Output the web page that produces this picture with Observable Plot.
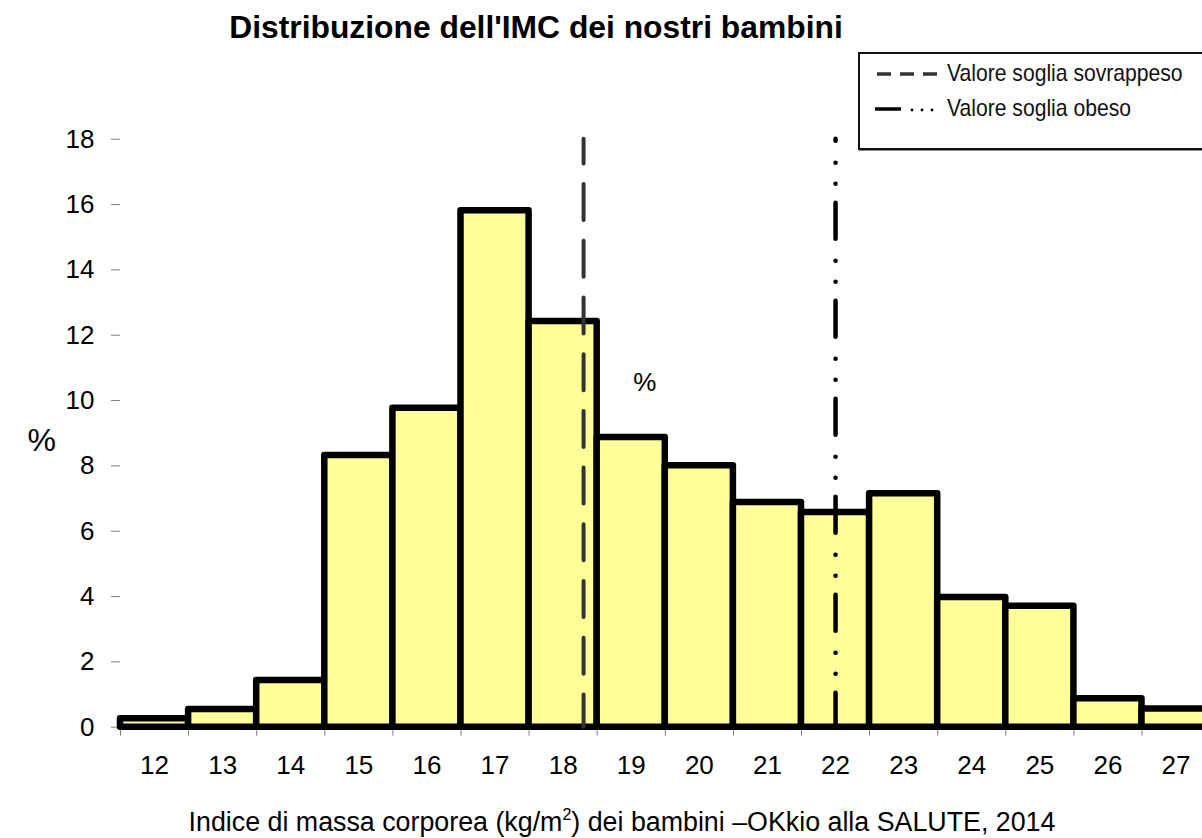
<!DOCTYPE html>
<html>
<head>
<meta charset="utf-8">
<script src="https://cdn.jsdelivr.net/npm/d3@7"></script>
<script src="https://cdn.jsdelivr.net/npm/@observablehq/plot@0.6"></script>
<style>
  html, body { margin: 0; padding: 0; background: #fff; overflow: hidden; }
  #wrap { position: relative; width: 1202px; height: 838px; overflow: hidden; font-family: "Liberation Sans", Arial, sans-serif; color: #000; }
  #title { position: absolute; left: 0; top: 0; width: 1072px; text-align: center; font-weight: bold; font-size: 31.8px; line-height: 54px; white-space: nowrap; }
  #chart { position: absolute; left: 0; top: 60px; width: 1202px; }
  #chart svg { max-width: none; display: block; }
  #caption { position: absolute; left: 0; top: 807px; width: 1244px; text-align: center; font-size: 26.8px; line-height: 30px; white-space: nowrap; }
  #caption .sup { font-size: 16px; position: relative; top: -11px; }
  #legend { position: absolute; left: 858px; top: 52px; width: 440px; height: 94px; border: 2px solid #111; background: #fff; box-shadow: 1px 1px 0 #888; }
  #legend svg { position: absolute; left: 0; top: 0; }
  #legend .row { position: absolute; left: 87px; font-family: "Liberation Sans", Arial, sans-serif; font-size: 24px; line-height: 28px; white-space: nowrap; color: #111; transform: scaleX(0.88); transform-origin: 0 50%; }
</style>
</head>
<body>
<div id="wrap">
  <div id="title"></div>
  <div id="chart"></div>
  <div id="legend"></div>
  <div id="caption"></div>
</div>
<script>
// ---- data ----
const bmiCategories = [12, 13, 14, 15, 16, 17, 18, 19, 20, 21, 22, 23, 24, 25, 26, 27];
const percentValues = [0.26, 0.54, 1.43, 8.32, 9.76, 15.81, 12.42, 8.87, 8.0, 6.88, 6.57, 7.15, 3.97, 3.7, 0.87, 0.56];
const yTicks = [0, 2, 4, 6, 8, 10, 12, 14, 16, 18];
const overweightThreshold = [18.3];
const obeseThreshold = [22.0];
const titleText = "Distribuzione dell'IMC dei nostri bambini";
const captionParts = ["Indice di massa corporea (kg/m", "2", ") dei bambini \u2013OKkio alla SALUTE, 2014"];
const legendLabels = ["Valore soglia sovrappeso", "Valore soglia obeso"];
const innerLabel = [{x: 19.2, y: 10.55, text: "%"}];
const yAxisLabel = "%";

// ---- derived ----
const rows = bmiCategories.map((b, i) => ({bmi: b, pct: percentValues[i]}));
const boundaries = bmiCategories.map(b => b - 0.5).concat([bmiCategories[bmiCategories.length - 1] + 0.5]);

document.getElementById("title").textContent = titleText;
const cap = document.getElementById("caption");
cap.innerHTML = "";
cap.append(captionParts[0]);
const sup = document.createElement("span"); sup.className = "sup"; sup.textContent = captionParts[1];
cap.append(sup);
cap.append(captionParts[2]);

// legend
const lg = document.getElementById("legend");
lg.innerHTML = `<svg width="440" height="94">
  <line x1="17" x2="77" y1="20" y2="20" stroke="#333" stroke-width="3.5" stroke-dasharray="14,9"/>
  <line x1="15" x2="41" y1="55" y2="55" stroke="#000" stroke-width="3.5"/>
  <circle cx="52" cy="56" r="1.4" fill="#000"/>
  <circle cx="62" cy="56" r="1.4" fill="#000"/>
  <circle cx="72" cy="56" r="1.4" fill="#000"/>
</svg>`;
legendLabels.forEach((t, i) => {
  const d = document.createElement("div");
  d.className = "row";
  d.style.top = (i === 0 ? 5 : 40) + "px";
  d.textContent = t;
  lg.appendChild(d);
});

const plot = Plot.plot({
  width: 1202,
  height: 730,
  marginTop: 78.7,
  marginBottom: 63.3,
  marginLeft: 120,
  marginRight: 0,
  style: {fontFamily: "'Liberation Sans', Arial, sans-serif", background: "white", color: "black", overflow: "hidden"},
  x: {type: "linear", domain: [11.5, 27.5], range: [120, 1209.6]},
  y: {domain: [0, 18], range: [666.7, 78.7]},
  marks: [
    Plot.axisY({ticks: yTicks, tickSize: 9, tickPadding: 17, stroke: "#808080", fill: "black", fontSize: 26, label: null, line: true}),
    Plot.axisX({ticks: boundaries, tickSize: 9, tickFormat: () => "", stroke: "#808080", fill: "none", label: null, line: true}),
    Plot.axisX({ticks: bmiCategories, tickSize: 0, tickPadding: 28, fontSize: 26, fill: "black", label: null}),
    Plot.rect(rows, {x1: d => d.bmi - 0.5, x2: d => d.bmi + 0.5, y1: 0, y2: "pct", fill: "#FFFF99", stroke: "black", strokeWidth: 6.5, strokeLinejoin: "round"}),
    Plot.ruleX(overweightThreshold, {x: d => d, y1: 18, y2: 0, stroke: "#333", strokeWidth: 4, strokeDasharray: "36,20.7", strokeDashoffset: 11.3, strokeLinecap: "round"}),
    Plot.ruleX(obeseThreshold, {x: d => d, y1: 18, y2: 0, stroke: "#000", strokeWidth: 4.5, strokeDasharray: "36,22,0,21,0,19", strokeDashoffset: 34, strokeLinecap: "round"}),
    Plot.text(innerLabel, {x: "x", y: "y", text: "text", fontSize: 26, fill: "black"}),
    Plot.text([yAxisLabel], {text: d => d, frameAnchor: "left", dx: -93, dy: 8, fontSize: 32, fill: "black"})
  ]
});
document.getElementById("chart").appendChild(plot);
</script>
</body>
</html>
